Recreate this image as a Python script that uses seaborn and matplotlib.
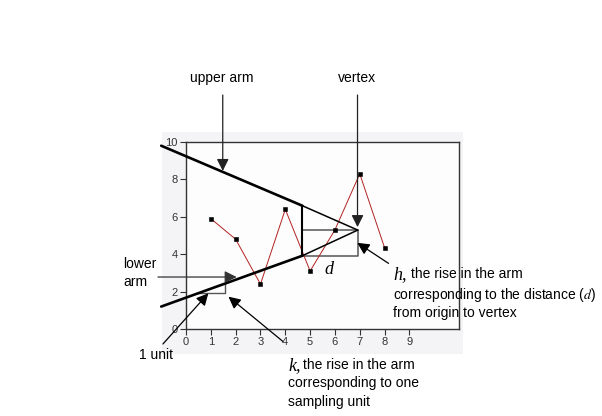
import matplotlib
matplotlib.use("Agg")
import matplotlib.pyplot as plt
import seaborn as sns
from matplotlib.patches import Rectangle

# sample series
sample_x = [1, 2, 3, 4, 5, 6, 7, 8]
sample_y = [5.9, 4.8, 2.4, 6.4, 3.1, 5.3, 8.3, 4.35]

# the two arms of the V-mask (start, point where d starts, vertex)
arm_x = [-1.0, 4.69, 6.92]
upper_arm_y = [9.8, 6.59, 5.29]
lower_arm_y = [1.2, 3.92, 5.29]

# construction lines for h / d and for k
h_box_x = [4.69, 6.92, 6.92, 4.69]
h_box_y = [5.29, 5.29, 3.92, 3.92]
k_step_x = [0.5, 1.57, 1.57]
k_step_y = [1.91, 1.91, 2.44]

x_ticks = list(range(0, 10))
y_ticks = [0, 2, 4, 6, 8, 10]

sns.set_style("ticks")
plt.rcParams["font.family"] = ["Liberation Sans", "DejaVu Sans"]
plt.rcParams["mathtext.fontset"] = "stix"

fig = plt.figure(figsize=(6.02, 4.16), dpi=100)
fig.patch.set_facecolor("white")
fig.patches.append(Rectangle((0.2686, 0.149), 0.5004, 0.5344, transform=fig.transFigure,
                             facecolor="#f4f4f6", edgecolor="none", zorder=-10))

ax = fig.add_axes([0.309, 0.2091, 0.4535, 0.4496])
ax.set_facecolor("#fdfdfd")

sns.lineplot(x=sample_x, y=sample_y, ax=ax, color="#b22222", linewidth=0.7,
             marker="s", markersize=3.0, markeredgewidth=0.4, markerfacecolor="black",
             markeredgecolor="black", zorder=3)

# arms: thick to the lead line, thinner up to the vertex
ax.plot(arm_x[:2], upper_arm_y[:2], color="black", lw=1.9, clip_on=False, zorder=4)
ax.plot(arm_x[1:], upper_arm_y[1:], color="black", lw=1.1, clip_on=False, zorder=4)
ax.plot(arm_x[:2], lower_arm_y[:2], color="black", lw=1.9, clip_on=False, zorder=4)
ax.plot(arm_x[1:], lower_arm_y[1:], color="black", lw=1.1, clip_on=False, zorder=4)
ax.plot([arm_x[1], arm_x[1]], [lower_arm_y[1], upper_arm_y[1]], color="black", lw=1.5, zorder=4)

ax.plot(h_box_x, h_box_y, color="#555555", lw=1.1, zorder=2)
ax.plot(k_step_x, k_step_y, color="#555555", lw=1.0, zorder=2)

ax.set_xlim(0, 11)
ax.set_ylim(0, 10)
ax.set_xticks(x_ticks)
ax.set_yticks(y_ticks)
ax.tick_params(labelsize=8, colors="#333333", length=4.5, width=0.8, pad=1.5)
for s in ax.spines.values():
    s.set_visible(True)
    s.set_color("#333333")
    s.set_linewidth(1.0)
ax.set_xlabel("")
ax.set_ylabel("")

head = dict(arrowstyle="-|>,head_length=0.6,head_width=0.3", mutation_scale=12,
            color="black", lw=0.9, shrinkA=0, shrinkB=0)


def arrow(tail, tip, color="black"):
    props = dict(head)
    props["color"] = color
    ax.annotate("", xy=tip, xytext=tail, xycoords="data", textcoords="data",
                arrowprops=props, annotation_clip=False, zorder=5)


arrow((1.48, 12.51), (1.48, 8.45), "#222222")
arrow((6.91, 12.51), (6.91, 5.45), "#222222")
arrow((-1.13, 2.78), (2.04, 2.78), "#333333")
arrow((-0.93, -0.80), (0.90, 1.91))
arrow((3.90, -0.66), (1.71, 1.73))
arrow((8.16, 3.51), (6.90, 4.61))

txt = dict(fontsize=10, color="black", clip_on=False)
ital = dict(fontsize=13, family="Liberation Serif", style="italic", color="black", clip_on=False)
ax.text(1.45, 13.42, "upper arm", ha="center", va="center", **txt)
ax.text(6.90, 13.42, "vertex", ha="center", va="center", **txt)
ax.text(-2.54, 3.0, "lower\narm", ha="left", va="center", linespacing=1.3, **txt)
ax.text(-1.21, -1.39, "1 unit", ha="center", va="center", **txt)
ax.text(5.74, 3.19, "d", ha="center", va="center", **ital)

# k note
ax.text(4.11, -1.85, "k,", ha="left", va="center_baseline", **ital)
k_lines = ["the rise in the arm", "corresponding to one", "sampling unit"]
k_left = [4.73, 4.11, 4.11]
for i, line in enumerate(k_lines):
    ax.text(k_left[i], -1.85 - 0.98 * i, line, ha="left", va="center_baseline", **txt)

# h note
ax.text(8.35, 3.00, "h,", ha="left", va="center_baseline", **ital)
h_lines = ["the rise in the arm", "corresponding to the distance ($d$)", "from origin to vertex"]
h_left = [9.05, 8.35, 8.35]
for i, line in enumerate(h_lines):
    ax.text(h_left[i], 3.00 - 1.04 * i, line, ha="left", va="center_baseline", **txt)

fig.savefig("out.png", dpi=100)
